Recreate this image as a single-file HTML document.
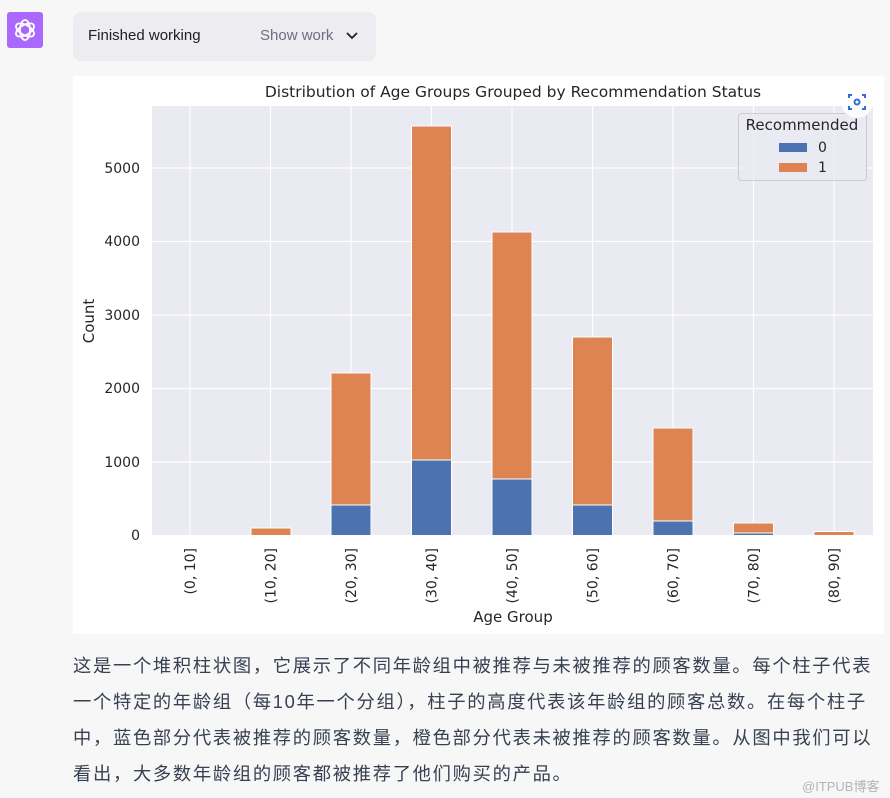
<!DOCTYPE html>
<html><head><meta charset="utf-8"><style>
body{margin:0;width:890px;height:798px;background:#f7f7f8;overflow:hidden;position:relative;font-family:"Liberation Sans","Noto Sans CJK SC",sans-serif}
.icon{position:absolute;left:7px;top:12px;width:36px;height:36px;background:#ab68ff;border-radius:3px}
.box{position:absolute;left:73px;top:12px;width:303px;height:49px;background:#ececf1;border-radius:8px}
.t1{position:absolute;left:15px;top:15px;font-size:15px;color:#202123}
.t2{position:absolute;left:187px;top:15px;font-size:15px;color:#6e6e80}
.chart{position:absolute;left:73px;top:76px;width:811px;height:558px;background:#fff}
.p{position:absolute;left:73px;top:648px;width:830px;font-size:18.3px;line-height:36px;color:#374151;letter-spacing:1.7px;white-space:nowrap}
.wm{position:absolute;left:802px;top:776px;font-size:13px;color:#b4b4b4}
</style></head><body>
<div class="icon"><svg width="36" height="36" viewBox="0 0 36 36"><g fill="none" stroke="#fff" stroke-width="1.8"><ellipse cx="18" cy="18" rx="5" ry="10"/><ellipse cx="18" cy="18" rx="5" ry="10" transform="rotate(60 18 18)"/><ellipse cx="18" cy="18" rx="5" ry="10" transform="rotate(120 18 18)"/></g></svg></div>
<div class="box"><span class="t1">Finished working</span><span class="t2">Show work</span>
<svg style="position:absolute;left:273px;top:19px" width="12" height="10"><path d="M1 2 L6 7 L11 2" fill="none" stroke="#202123" stroke-width="1.8"/></svg></div>
<div class="chart"></div>
<svg style="position:absolute;left:0;top:0" width="890" height="798" font-family="'DejaVu Sans',sans-serif">
<text x="513" y="97" font-size="15.5" text-anchor="middle" fill="#262626">Distribution of Age Groups Grouped by Recommendation Status</text>
<rect x="152" y="106" width="721" height="430" fill="#eaeaf2"/>
<g stroke="#fff" stroke-width="1.2">
<line x1="152" x2="873" y1="535.5" y2="535.5"/><line x1="152" x2="873" y1="462" y2="462"/><line x1="152" x2="873" y1="388.5" y2="388.5"/><line x1="152" x2="873" y1="315" y2="315"/><line x1="152" x2="873" y1="241.5" y2="241.5"/><line x1="152" x2="873" y1="168" y2="168"/>
<line y1="106" y2="536" x1="190" x2="190"/><line y1="106" y2="536" x1="270.5" x2="270.5"/><line y1="106" y2="536" x1="351" x2="351"/><line y1="106" y2="536" x1="431.5" x2="431.5"/><line y1="106" y2="536" x1="512" x2="512"/><line y1="106" y2="536" x1="592.5" x2="592.5"/><line y1="106" y2="536" x1="673" x2="673"/><line y1="106" y2="536" x1="753.5" x2="753.5"/><line y1="106" y2="536" x1="834" x2="834"/>
</g>
<g stroke="#fff" stroke-width="1">
<rect x="251" y="528" width="40" height="7.5" fill="#dd8452"/>
<rect x="331" y="505" width="40" height="30.5" fill="#4c72b0"/><rect x="331" y="373" width="40" height="132" fill="#dd8452"/>
<rect x="411.5" y="460" width="40" height="75.5" fill="#4c72b0"/><rect x="411.5" y="126" width="40" height="334" fill="#dd8452"/>
<rect x="492" y="479" width="40" height="56.5" fill="#4c72b0"/><rect x="492" y="232" width="40" height="247" fill="#dd8452"/>
<rect x="572.5" y="505" width="40" height="30.5" fill="#4c72b0"/><rect x="572.5" y="337" width="40" height="168" fill="#dd8452"/>
<rect x="653" y="521" width="40" height="14.5" fill="#4c72b0"/><rect x="653" y="428" width="40" height="93" fill="#dd8452"/>
<rect x="733.5" y="533" width="40" height="2.5" fill="#4c72b0"/><rect x="733.5" y="523" width="40" height="10" fill="#dd8452"/>
<rect x="814" y="531.5" width="40" height="4" fill="#dd8452"/>
</g>
<g font-size="14" fill="#262626" text-anchor="end">
<text x="140" y="540">0</text><text x="140" y="467">1000</text><text x="140" y="393">2000</text><text x="140" y="320">3000</text><text x="140" y="246">4000</text><text x="140" y="173">5000</text>
</g>
<text transform="translate(94,321) rotate(-90)" font-size="15" fill="#262626" text-anchor="middle">Count</text>
<g font-size="14" fill="#262626" text-anchor="end">
<text transform="translate(195,548) rotate(-90)">(0, 10]</text><text transform="translate(275.5,548) rotate(-90)">(10, 20]</text><text transform="translate(356,548) rotate(-90)">(20, 30]</text><text transform="translate(436.5,548) rotate(-90)">(30, 40]</text><text transform="translate(517,548) rotate(-90)">(40, 50]</text><text transform="translate(597.5,548) rotate(-90)">(50, 60]</text><text transform="translate(678,548) rotate(-90)">(60, 70]</text><text transform="translate(758.5,548) rotate(-90)">(70, 80]</text><text transform="translate(839,548) rotate(-90)">(80, 90]</text>
</g>
<text x="513" y="622" font-size="15" fill="#262626" text-anchor="middle">Age Group</text>
<rect x="738.5" y="113.5" width="128" height="67" rx="3" fill="#eaeaf2" fill-opacity="0.8" stroke="#ccc"/>
<text x="802" y="130" font-size="15" fill="#262626" text-anchor="middle">Recommended</text>
<rect x="779" y="143" width="28" height="9" fill="#4c72b0"/><text x="818" y="152" font-size="14" fill="#262626">0</text>
<rect x="779" y="163" width="28" height="9" fill="#dd8452"/><text x="818" y="172" font-size="14" fill="#262626">1</text>
<circle cx="857" cy="102" r="16" fill="#fff" fill-opacity="0.85"/>
<g fill="none" stroke="#2f6fd6" stroke-width="2"><path d="M849 98v-3h3M862 95h3v3M865 106v3h-3M852 109h-3v-3"/><circle cx="857" cy="102" r="2.5"/></g>
</svg>
<div class="p">这是一个堆积柱状图，它展示了不同年龄组中被推荐与未被推荐的顾客数量。每个柱子代表<br>一个特定的年龄组（每10年一个分组），柱子的高度代表该年龄组的顾客总数。在每个柱子<br>中，蓝色部分代表被推荐的顾客数量，橙色部分代表未被推荐的顾客数量。从图中我们可以<br>看出，大多数年龄组的顾客都被推荐了他们购买的产品。</div>
<div class="wm">@ITPUB博客</div>
</body></html>
